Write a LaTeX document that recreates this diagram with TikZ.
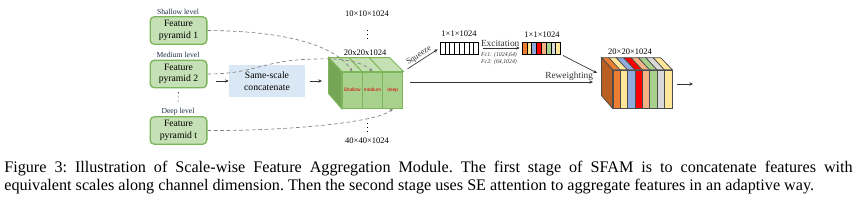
\documentclass[tikz,border=0pt]{standalone}
\usepackage{fontspec}
\setmainfont{Liberation Serif}
\setsansfont{Liberation Sans}
\usetikzlibrary{arrows.meta}
\definecolor{fpgreen}{HTML}{C5E0B4}
\definecolor{fpline}{HTML}{7DB55A}
\definecolor{catblue}{HTML}{DAE8F5}
\definecolor{cubefront}{HTML}{A9D18E}
\definecolor{cubetop}{HTML}{C5E0B4}
\definecolor{cubeside}{HTML}{76A655}
\definecolor{lvlnavy}{HTML}{1F2A44}
\definecolor{stO}{HTML}{ED7D31}
\definecolor{stY}{HTML}{FFE699}
\definecolor{stB}{HTML}{8FAADC}
\definecolor{stR}{HTML}{FF0000}
\definecolor{stS}{HTML}{F4B183}
\definecolor{stG}{HTML}{A9D18E}
\definecolor{stK}{HTML}{D9D9D9}
\definecolor{stBrown}{HTML}{BA5F22}
\tikzset{
  pyr/.style={draw=fpline, fill=fpgreen, line width=0.8pt, rounded corners=2.5pt, align=center, minimum width=34pt, minimum height=16.5pt, inner sep=0.5pt, font=\fontsize{5.8}{7}\selectfont},
  lvl/.style={text=lvlnavy, inner sep=0.5pt, font=\fontsize{4.6}{5}\selectfont},
  dimlbl/.style={inner sep=0.5pt, font=\fontsize{5.1}{6}\selectfont},
  concatbox/.style={fill=catblue, align=center, minimum width=45.6pt, minimum height=19.2pt, font=\fontsize{5.8}{7}\selectfont},
  sect/.style={draw=fpline, fill=cubefront, line width=0.6pt, minimum width=12.2pt, minimum height=21.6pt, inner sep=0pt, text=red!85!black, font=\sffamily\fontsize{2.9}{3.4}\selectfont},
  cell/.style={draw, fill=white, line width=0.35pt, minimum width=2.88pt, minimum height=7.2pt, inner sep=0pt},
  stripe/.style={draw=black!70, line width=0.45pt, minimum width=4.425pt, minimum height=22.8pt, inner sep=0pt},
  flow/.style={-{Stealth[length=2.2pt, width=2pt]}, line width=0.4pt, black!80},
  skip/.style={-{Stealth[length=2pt, width=1.8pt]}, dashed, dash pattern=on 2.2pt off 1.6pt, line width=0.4pt, black!50},
  vdot/.style={dotted, line width=0.5pt},
  small/.style={inner sep=0.5pt, font=\fontsize{5.6}{6}\selectfont},
  fclbl/.style={inner sep=0.3pt, font=\itshape\fontsize{3.5}{4.6}\selectfont, text=black!80},
}
\begin{document}
\begin{tikzpicture}[x=0.6pt, y=-0.6pt]
  \useasboundingbox (0,0) rectangle (857,206);
  % feature pyramids
  \node[lvl] (shallowlbl) at (178,12) {Shallow level};
  \node[pyr] (pyr1) at (178.5,30.5) {Feature\\pyramid 1};
  \node[lvl] (mediumlbl) at (178,55) {Medium level};
  \node[pyr] (pyr2) at (178.5,74) {Feature\\pyramid 2};
  \node[lvl] (deeplbl) at (178,112) {Deep level};
  \node[pyr] (pyrt) at (178.5,130.5) {Feature\\pyramid t};
  \draw[vdot, shorten <=2.4pt, shorten >=3.6pt] (pyr2.south) -- (deeplbl.north);
  \node[concatbox] (concat) at (267,81) {Same-scale\\concatenate};
  \coordinate (catin) at (322,81);
  % concatenated cube
  \node[sect] (shal) at (352.2,90) {Shallow};
  \node[sect] (med) at (372.5,90) {medium};
  \node[sect] (deep) at (392.8,90) {deep};
  \draw[draw=fpline, fill=cubetop, line width=0.6pt] (shal.north west) -- ++(-13,-14) -- ++(61,0) -- (deep.north east) -- cycle;
  \draw[draw=fpline, fill=cubeside, line width=0.6pt] (shal.north west) -- ++(-13,-14) -- ++(0,36) -- (shal.south west) -- cycle;
  \draw[draw=fpline, line width=0.6pt] (med.north west) -- ++(-13,-14) (deep.north west) -- ++(-13,-14);
  \node[dimlbl] (dimtop) at (367,14) {10×10×1024};
  \node[dimlbl] (dimmid) at (365,53) {20x20x1024};
  \node[dimlbl] (dimbot) at (367,141) {40×40×1024};
  \draw[vdot, shorten <=7.2pt, shorten >=6pt] (dimtop.south) -- (dimtop.south |- dimmid.north);
  \draw[vdot] ([yshift=3pt]dimbot.north) -- ++(0,-10);
  % squeeze and excitation vectors
  \foreach \i in {1,...,8}
    \node[cell] (sq\i) at ({437.6+4.8*\i},48) {};
  \foreach \col [count=\i] in {stO,stY,stB,stR,stS,stG,stK,stY}
    \node[cell, fill=\col] (ex\i) at ({519.6+4.8*\i},48) {};
  \node[dimlbl] (sqdim) at (459,34) {1×1×1024};
  \node[dimlbl] (exdim) at (542,35) {1×1×1024};
  \node[fclbl, align=left] (fcs) at (499,58.5) {Fc1: (1024,64)\\Fc2: (64,1024)};
  % reweighted output cube
  \foreach \col [count=\i] in {stO,stY,stB,stR,stS,stG,stK,stY}
    \node[stripe, fill=\col] (s\i) at ({609.2+7.375*\i},89) {};
  \foreach \col [count=\i] in {stO,stY,stB,stR,stS,stG,stK,stY}
    \draw[draw=black!70, fill=\col, line width=0.45pt] (s\i.north west) -- ++(-11,-12) -- ++(7.375,0) -- (s\i.north east) -- cycle;
  \draw[draw=black!70, fill=stBrown, line width=0.45pt] (s1.north west) -- ++(-11,-12) -- ++(0,38) -- (s1.south west) -- cycle;
  \node[dimlbl] (outdim) at (630,52) {20×20×1024};
  \coordinate (outtop) at (597,73);
  \coordinate (rwstart) at (410,82);
  \coordinate (rwend) at (593,82);
  \coordinate (outstart) at (677,84);
  \coordinate (outend) at (693,84);
  % connectors
  \draw[flow, shorten <=4.8pt] (pyr2.east |- concat.west) -- (concat.west);
  \draw[flow, shorten <=3pt] (concat.east) -- (catin);
  \draw[skip] (pyr1.east) .. controls (285,31) and (335,45) .. (shal.north);
  \draw[skip] (pyr2.east) .. controls (255,74) and (262,60) .. (315,59) .. controls (345,58) and (362,62) .. (med.north);
  \draw[skip] (pyrt.east) .. controls (290,131) and (380,122) .. (deep.south);
  \draw[flow, shorten <=3pt, shorten >=1.5pt] (deep.north east) -- (sq1.west) node[midway, sloped, above, small, font=\fontsize{5}{6}\selectfont]{Squeeze};
  \draw[flow, shorten <=2.4pt, shorten >=1.2pt] (sq8.east) -- (ex1.west) node[midway, above, small]{Excitation};
  \draw[flow, shorten <=1.5pt] (ex8.south east) -- (outtop);
  \draw[flow] (rwstart) -- (rwend) node[pos=0.87, above, small]{Reweighting};
  \draw[flow] (outstart) -- (outend);
  % caption
  \node[text width=509pt, align=justify, inner sep=0pt, font=\fontsize{9.7}{10.8}\selectfont\frenchspacing] (caption) at (428.5,177.5) {Figure 3: Illustration of Scale-wise Feature Aggregation Module. The first stage of SFAM is to concatenate features with\linebreak equivalent scales along channel dimension. Then the second stage uses SE attention to aggregate features in an adaptive way.};
\end{tikzpicture}
\end{document}
